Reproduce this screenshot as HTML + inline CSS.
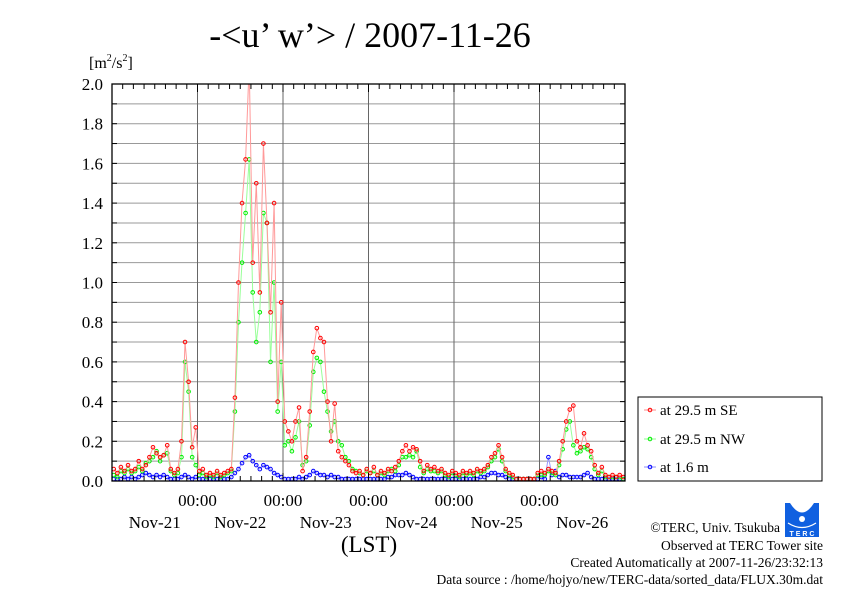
<!DOCTYPE html>
<html><head><meta charset="utf-8"><style>
html,body{margin:0;padding:0;background:#fff;}
svg{display:block;font-family:"Liberation Serif",serif;}
</style></head><body>
<svg id="chart" width="842" height="595" viewBox="0 0 842 595" xmlns="http://www.w3.org/2000/svg">
<defs><clipPath id="plotclip"><rect x="112" y="84" width="513" height="397"/></clipPath></defs>
<rect width="842" height="595" fill="#fff"/>
<text x="370" y="47" font-size="36" text-anchor="middle">-&lt;u’ w’&gt; / 2007-11-26</text>
<text x="89" y="68" font-size="16">[m<tspan font-size="10" dy="-7">2</tspan><tspan dy="7">/s</tspan><tspan font-size="10" dy="-7">2</tspan><tspan dy="7">]</tspan></text>
<g id="grid"></g>
<g id="series" clip-path="url(#plotclip)"></g>
<rect x="112" y="84" width="513" height="397" fill="none" stroke="#000" stroke-width="1.3"/>
<g id="axes"></g>
<text x="369" y="552" font-size="23" text-anchor="middle">(LST)</text>
<g>
<rect x="638" y="397" width="184" height="84" fill="#fff" stroke="#000" stroke-width="1"/>
<g><line x1="644" y1="410" x2="656" y2="410" stroke="#f88"/><circle cx="650" cy="410" r="1.8" fill="none" stroke="#f00"/><text x="660" y="415" font-size="15">at 29.5 m SE</text></g>
<g><line x1="644" y1="439" x2="656" y2="439" stroke="#8f8"/><circle cx="650" cy="439" r="1.8" fill="none" stroke="#0e0"/><text x="660" y="444" font-size="15">at 29.5 m NW</text></g>
<g><line x1="644" y1="467" x2="656" y2="467" stroke="#88f"/><circle cx="650" cy="467" r="1.8" fill="none" stroke="#00f"/><text x="660" y="472" font-size="15">at 1.6 m</text></g>
</g>
<g>
<rect x="785" y="503" width="34" height="34" fill="#1060e0"/>
<path d="M790 503 Q802 522 814 503 Z" fill="#fff"/>
<circle cx="802" cy="519" r="3" fill="#fff"/>
<path d="M788 523 Q802 532 816 523" fill="none" stroke="#fff" stroke-width="1.2"/>
<text x="802" y="536" font-size="7" fill="#fff" text-anchor="middle" font-family="Liberation Sans,sans-serif" font-weight="bold">T E R C</text>
</g>
<g font-size="13.5" text-anchor="end">
<text x="780" y="532">©TERC, Univ. Tsukuba</text>
<text x="823" y="550">Observed at TERC Tower site</text>
<text x="823" y="567">Created Automatically at 2007-11-26/23:32:13</text>
<text x="823" y="584">Data source : /home/hojyo/new/TERC-data/sorted_data/FLUX.30m.dat</text>
</g>
</svg>
<script>
const yTicks = [0,0.2,0.4,0.6,0.8,1.0,1.2,1.4,1.6,1.8,2.0];
const yTickLabels = ["0.0","0.2","0.4","0.6","0.8","1.0","1.2","1.4","1.6","1.8","2.0"];
const dayLabels = ["Nov-21","Nov-22","Nov-23","Nov-24","Nov-25","Nov-26"];
const midnightHours = [24,48,72,96,120];
const redSE = [
.06,.04,.07,.05,.08,.05,.06,.1,.06,.08,
.12,.17,.14,.12,.13,.18,.06,.04,.06,.2,
.7,.5,.17,.27,.05,.06,.03,.04,.03,.05,
.03,.04,.05,.06,.42,1.0,1.4,1.62,2.1,1.1,
1.5,.95,1.7,1.3,.85,1.4,.4,.9,.3,.25,
.2,.3,.37,.05,.12,.35,.65,.77,.72,.7,
.4,.2,.39,.15,.12,.1,.08,.05,.04,.05,
.03,.06,.04,.07,.03,.05,.04,.06,.05,.07,
.1,.15,.18,.15,.17,.16,.1,.05,.08,.06,
.07,.05,.06,.04,.03,.05,.04,.03,.05,.04,
.05,.04,.06,.05,.06,.08,.12,.14,.18,.12,
.06,.04,.03,.01,.01,.01,.01,.01,.01,.04,
.05,.04,.06,.05,.04,.1,.2,.3,.36,.38,
.2,.17,.24,.18,.15,.08,.04,.07,.03,.02,
.03,.02,.03,.02];
const greenNW = [
.03,.02,.05,.04,.06,.04,.05,.07,.05,.09,
.1,.12,.15,.1,.13,.14,.05,.03,.04,.12,
.6,.45,.12,.08,.03,.04,.02,.03,.02,.04,
.02,.03,.04,.05,.35,.8,1.1,1.35,1.62,.95,
.7,.85,1.35,1.3,.6,1.0,.35,.6,.18,.2,
.15,.22,.3,.08,.1,.28,.55,.62,.6,.45,
.35,.25,.3,.2,.18,.12,.1,.06,.05,.04,
.03,.05,.04,.05,.03,.04,.03,.05,.06,.05,
.08,.12,.12,.13,.12,.15,.07,.04,.06,.05,
.05,.04,.05,.03,.02,.04,.03,.02,.04,.03,
.04,.03,.05,.04,.05,.07,.1,.12,.16,.1,
.05,.03,.02,.01,.01,.01,.01,.01,.01,.03,
.03,.03,.05,.04,.03,.08,.16,.26,.3,.18,
.14,.15,.17,.16,.12,.06,.03,.05,.02,.02,
.02,.02,.02,.01];
const blue16 = [
.01,.01,.01,.02,.01,.02,.01,.02,.03,.04,
.03,.02,.03,.02,.03,.02,.01,.01,.01,.02,
.03,.02,.01,.02,.01,.01,.01,.01,.01,.01,
.01,.01,.01,.02,.04,.06,.09,.12,.13,.1,
.08,.06,.08,.07,.06,.04,.03,.02,.01,.01,
.01,.01,.02,.01,.02,.03,.05,.04,.03,.03,
.02,.03,.02,.02,.01,.01,.01,.01,.01,.01,
.01,.01,.01,.01,.01,.01,.01,.02,.02,.03,
.03,.03,.04,.03,.02,.01,.01,.01,.01,.01,
.01,.01,.01,.01,.01,.01,.01,.01,.01,.01,
.01,.01,.01,.02,.02,.03,.04,.04,.03,.03,
.02,.01,.01,.01,.01,.01,.01,.01,.01,.01,
.02,.01,.12,.03,.05,.02,.03,.03,.02,.02,
.02,.02,.03,.04,.02,.01,.01,.01,.01,.01,
.01,.01,.01,.01];

const NS="http://www.w3.org/2000/svg";
const X0=112,X1=625,Y0=481,Y1=84,TOTAL_H=144;
function xs(h){return X0+(X1-X0)*h/TOTAL_H;}
function ys(v){return Y0-(Y0-Y1)*v/2.0;}
function mk(tag,attrs,parent){const e=document.createElementNS(NS,tag);for(const k in attrs)e.setAttribute(k,attrs[k]);parent.appendChild(e);return e;}
const grid=document.getElementById('grid'),axes=document.getElementById('axes'),ser=document.getElementById('series');
for(let i=1;i<20;i++){
  const y=ys(i*0.1);
  const l=mk('line',{x1:X0,x2:X1,y1:y,y2:y,stroke:'#999','stroke-width':1},grid);
  
  
  const t1=mk('line',{x1:X0,x2:X0+5,y1:y,y2:y,stroke:'#000'},axes);
  
  
  const t2=mk('line',{x1:X1-5,x2:X1,y1:y,y2:y,stroke:'#000'},axes);
  
  
}
midnightHours.forEach(h=>{
  const x=xs(h);
  const l=mk('line',{x1:x,x2:x,y1:Y1,y2:Y0,stroke:'#666','stroke-width':1},grid);
  
  
  const t=mk('text',{x:x,y:506,'font-size':17,'text-anchor':'middle'},axes);
  t.textContent='00:00';
  
  
});
for(let h=3;h<TOTAL_H;h+=3){
  const x=xs(h),len=(h%24===0)?8:5;
  const a=mk('line',{x1:x,x2:x,y1:Y1,y2:Y1+len,stroke:'#000'},axes);
  
  
  const b=mk('line',{x1:x,x2:x,y1:Y0-len,y2:Y0,stroke:'#000'},axes);
  
  
}
dayLabels.forEach((d,i)=>{
  const t=mk('text',{x:xs(24*i+12),y:528,'font-size':17,'text-anchor':'middle'},axes);
  t.textContent=d;
  
  
});
yTicks.forEach((v,i)=>{
  const t=mk('text',{x:103,y:ys(v)+6,'font-size':17,'text-anchor':'end'},axes);
  t.textContent=yTickLabels[i];
  
  
});
function drawSeries(data,line,mark,name){
  const g=mk('g',{},ser);
  
  
  const pts=data.map((v,i)=>xs(i+0.5).toFixed(1)+','+ys(v).toFixed(1)).join(' ');
  const pl=mk('polyline',{points:pts,fill:'none',stroke:line,'stroke-width':1},g);
  
  
  data.forEach((v,i)=>{
    const c=mk('circle',{cx:xs(i+0.5),cy:ys(v),r:1.8,fill:'none',stroke:mark,'stroke-width':1},g);
    
    
  });
}
drawSeries(blue16,'#99f','#00f','series-1-6m');
drawSeries(greenNW,'#9f9','#0e0','series-29-5m-nw');
drawSeries(redSE,'#f99','#f00','series-29-5m-se');
</script>
</body></html>
